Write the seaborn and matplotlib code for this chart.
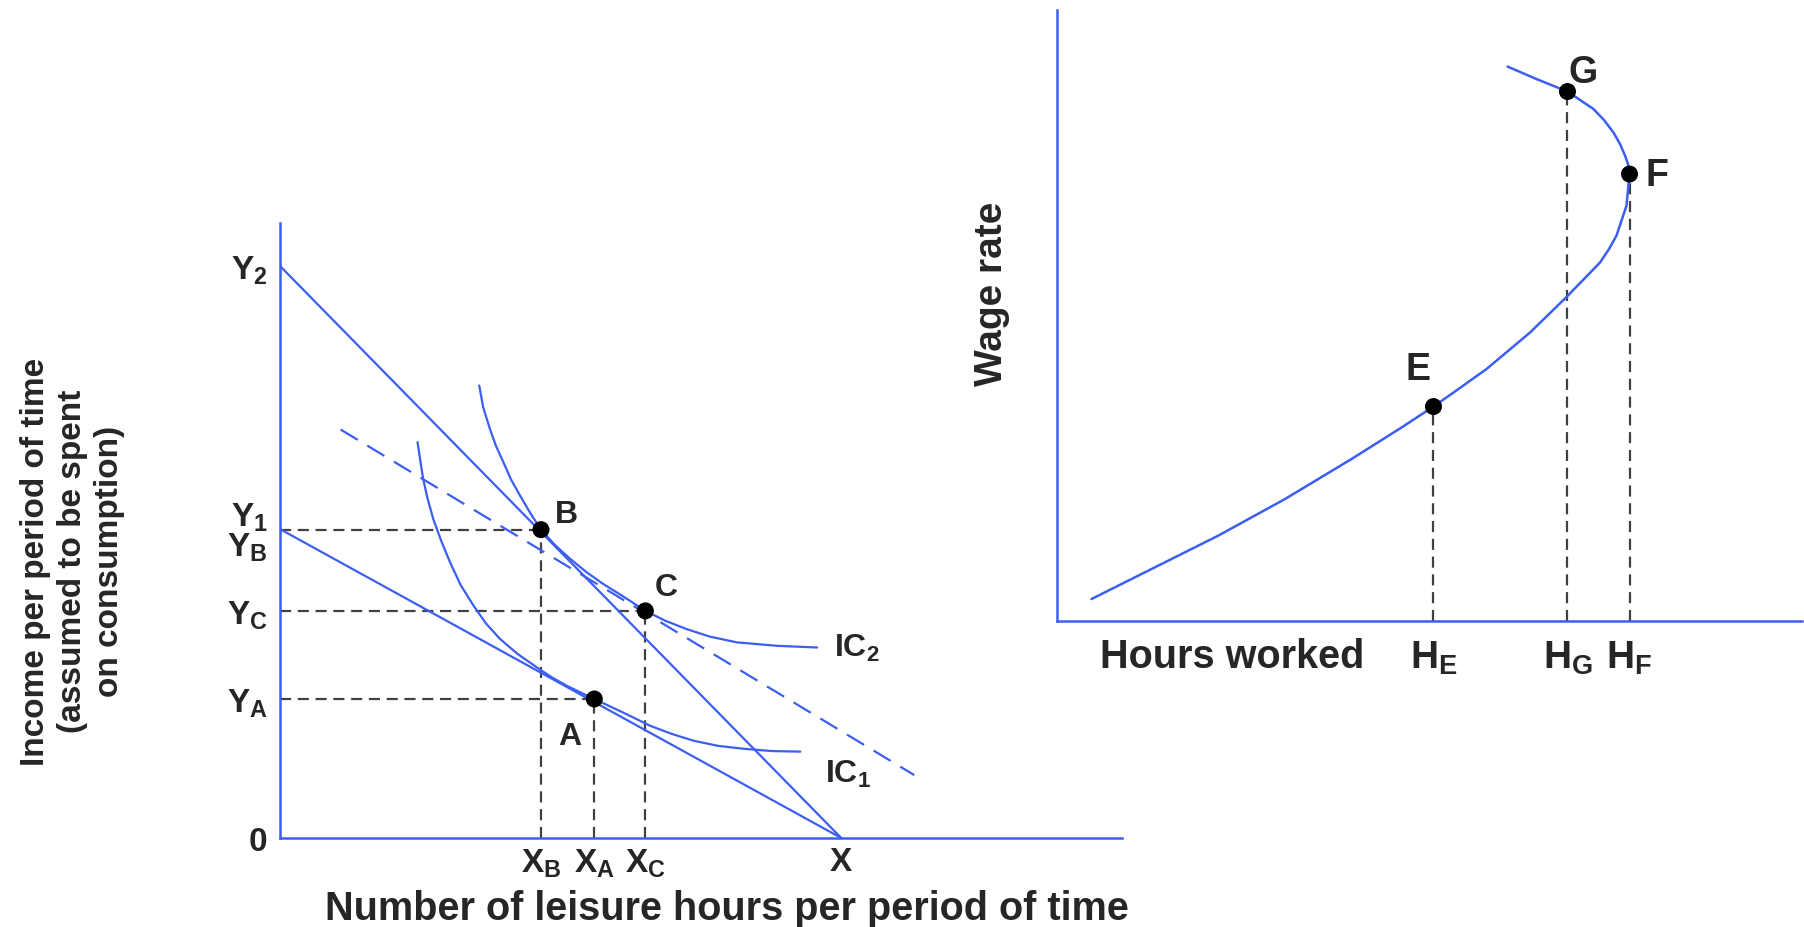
import matplotlib
matplotlib.use("Agg")
import matplotlib.pyplot as plt
import seaborn as sns

sns.set_theme(style="white")
plt.rcParams["font.family"] = ["Liberation Sans", "DejaVu Sans"]
plt.rcParams["mathtext.fontset"] = "custom"
plt.rcParams["mathtext.rm"] = "Liberation Sans"
plt.rcParams["mathtext.bf"] = "Liberation Sans:bold"
plt.rcParams["mathtext.default"] = "bf"

BLUE = "#3d5ef2"
GUIDE = "#404040"

# ---------- Left panel: leisure hours vs income ----------
new_budget_x = [0, 10]
new_budget_y = [10, 0]          # Y2 -> X
old_budget_x = [0, 10]
old_budget_y = [5.40, 0]        # Y1 -> X
comp_budget_x = [1.08, 11.30]   # dashed line through C
comp_budget_y = [7.14, 1.10]

ic2_x = [3.55, 3.62, 3.74, 3.85, 3.98, 4.12, 4.28, 4.46, 4.65, 4.90, 5.17, 5.47,
         5.76, 6.12, 6.51, 6.86, 7.25, 7.66, 8.14, 8.85, 9.57]
ic2_y = [7.91, 7.53, 7.15, 6.85, 6.57, 6.26, 5.98, 5.68, 5.39, 5.12, 4.88, 4.64,
         4.44, 4.22, 3.97, 3.80, 3.65, 3.52, 3.42, 3.36, 3.33]

ic1_x = [2.45, 2.50, 2.55, 2.63, 2.73, 2.87, 3.03, 3.22, 3.45, 3.67, 3.92, 4.23,
         4.58, 4.84, 5.11, 5.60, 6.12, 6.60, 6.98, 7.37, 7.81, 8.26, 8.76, 9.27]
ic1_y = [6.92, 6.60, 6.28, 5.93, 5.58, 5.20, 4.82, 4.42, 4.06, 3.75, 3.48, 3.22,
         2.98, 2.81, 2.66, 2.43, 2.19, 1.96, 1.82, 1.70, 1.61, 1.56, 1.52, 1.51]

choice_names = ["A", "B", "C"]
choice_x = [5.60, 4.65, 6.51]
choice_y = [2.43, 5.39, 3.97]

left_xticks = [4.65, 5.60, 6.51, 10]
left_xlabels = ["X$_B$", "X$_A$", "X$_C$", "X"]
left_yticks = [0, 2.43, 3.97, 5.39, 10]
left_ylabels = ["0", "Y$_A$", "Y$_C$", "Y$_1$\nY$_B$", "Y$_2$"]

# ---------- Right panel: backward-bending labour supply ----------
supply_hours = [0.69, 1.89, 3.23, 4.56, 5.89, 6.89, 7.53, 7.93, 8.59, 9.46, 10.19,
                10.86, 11.04, 11.19, 11.29, 11.39, 11.45, 11.42, 11.36, 11.26, 11.13,
                10.94, 10.73, 10.21, 9.59, 9.01]
supply_wage = [0.44, 1.04, 1.71, 2.44, 3.24, 3.87, 4.29, 4.57, 5.04, 5.77, 6.48,
               7.17, 7.44, 7.71, 8.01, 8.31, 8.94, 9.14, 9.31, 9.54, 9.77,
               10.02, 10.24, 10.59, 10.84, 11.09]

supply_names = ["E", "F", "G"]
supply_pt_hours = [7.53, 11.45, 10.21]
supply_pt_wage = [4.29, 8.94, 10.59]

right_xticks = [7.53, 10.21, 11.45]
right_xlabels = ["H$_E$", "H$_G$", "H$_F$"]

fig = plt.figure(figsize=(18.04, 9.28), dpi=100)
fig.patch.set_facecolor("white")


def style_axes(ax):
    ax.set_facecolor("none")
    sns.despine(ax=ax)
    for side in ["left", "bottom"]:
        ax.spines[side].set_color(BLUE)
        ax.spines[side].set_linewidth(1.8)
    ax.grid(False)


# ---------- Left panel ----------
ax1 = fig.add_axes([0.1552, 0.0959, 0.4667, 0.6627])
style_axes(ax1)
ax1.set_xlim(0, 15.0)
ax1.set_ylim(0, 10.75)

for px, py in zip(choice_x, choice_y):
    ax1.plot([0, px], [py, py], color=GUIDE, lw=1.6, ls=(0, (5, 3)), zorder=1)
    ax1.plot([px, px], [0, py], color=GUIDE, lw=1.6, ls=(0, (5, 3)), zorder=1)

sns.lineplot(x=new_budget_x, y=new_budget_y, color=BLUE, lw=1.6, ax=ax1)
sns.lineplot(x=old_budget_x, y=old_budget_y, color=BLUE, lw=1.6, ax=ax1)
ax1.plot(comp_budget_x, comp_budget_y, color=BLUE, lw=1.6, ls=(0, (9, 5)))
sns.lineplot(x=ic2_x, y=ic2_y, sort=False, estimator=None, color=BLUE, lw=1.6, ax=ax1)
sns.lineplot(x=ic1_x, y=ic1_y, sort=False, estimator=None, color=BLUE, lw=1.6, ax=ax1)
sns.scatterplot(x=choice_x, y=choice_y, color="black", s=150, edgecolor="none", zorder=5, ax=ax1)

label_offsets = {"A": (-18, -27), "B": (18, 11), "C": (15, 17)}
for name, px, py in zip(choice_names, choice_x, choice_y):
    ax1.annotate(name, (px, py), xytext=label_offsets[name], textcoords="offset points",
                 ha="center", va="center", fontsize=23, fontweight="bold")

ax1.annotate("IC$_2$", (ic2_x[-1], ic2_y[-1]), xytext=(12, 0), textcoords="offset points",
             ha="left", va="center", fontsize=23, fontweight="bold")
ax1.annotate("IC$_1$", (ic1_x[-1], ic1_y[-1]), xytext=(18, -16), textcoords="offset points",
             ha="left", va="center", fontsize=23, fontweight="bold")

ax1.set_xticks(left_xticks, left_xlabels)
ax1.set_yticks(left_yticks, left_ylabels)
ax1.tick_params(axis="x", length=0, pad=6, labelsize=24)
ax1.tick_params(axis="y", length=0, pad=9, labelsize=24)
for lab in ax1.get_xticklabels():
    lab.set_fontweight("bold")
for lab in ax1.get_yticklabels():
    lab.set_fontweight("bold")
    lab.set_multialignment("right")
    lab.set_linespacing(0.9)

fig.text(0.403, 0.021, "Number of leisure hours per period of time",
         ha="center", va="center", fontsize=28.5, fontweight="bold")
fig.text(0.040, 0.395,
         "Income per period of time\n(assumed to be spent\non consumption)",
         ha="center", va="center", rotation=90, fontsize=24, fontweight="bold",
         linespacing=1.25)

# ---------- Right panel ----------
ax2 = fig.add_axes([0.5859, 0.3297, 0.413, 0.6584])
style_axes(ax2)
ax2.set_xlim(0, 14.9)
ax2.set_ylim(0, 12.22)

for hx, wy in zip(supply_pt_hours, supply_pt_wage):
    ax2.plot([hx, hx], [0, wy], color=GUIDE, lw=1.6, ls=(0, (5, 3)), zorder=1)

sns.lineplot(x=supply_hours, y=supply_wage, sort=False, estimator=None,
             color=BLUE, lw=1.8, ax=ax2)
sns.scatterplot(x=supply_pt_hours, y=supply_pt_wage, color="black", s=150,
                edgecolor="none", zorder=5, ax=ax2)

supply_offsets = {"E": (-11, 27), "F": (20, -1), "G": (11, 14)}
for name, hx, wy in zip(supply_names, supply_pt_hours, supply_pt_wage):
    ax2.annotate(name, (hx, wy), xytext=supply_offsets[name], textcoords="offset points",
                 ha="center", va="center", fontsize=27, fontweight="bold")

ax2.set_xticks(right_xticks, right_xlabels)
ax2.set_yticks([])
ax2.tick_params(axis="x", length=0, pad=13, labelsize=28)
for lab in ax2.get_xticklabels():
    lab.set_fontweight("bold")

ax2.text(0.235, -0.058, "Hours worked", transform=ax2.transAxes,
         ha="center", va="center", fontsize=28.5, fontweight="bold")
ax2.text(-0.087, 0.538, "Wage rate", transform=ax2.transAxes, rotation=90,
         ha="center", va="center", fontsize=28, fontweight="bold")

fig.savefig("out.png", dpi=100, facecolor="white")
